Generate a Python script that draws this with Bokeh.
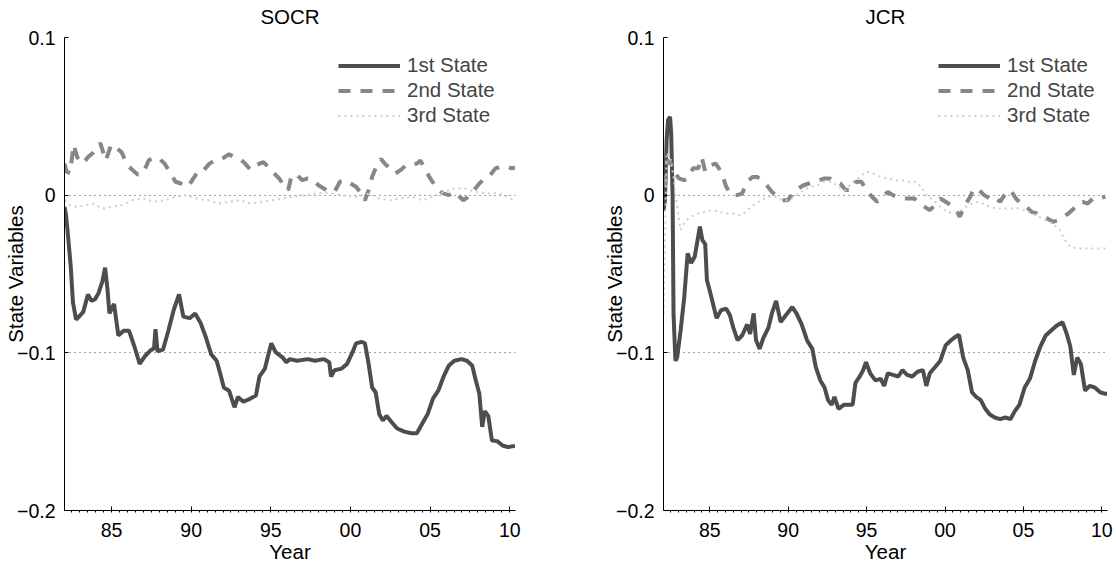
from bokeh.plotting import figure
from bokeh.layouts import row
from bokeh.models import (FixedTicker, CustomJSTickFormatter, Range1d, Legend,
                          LegendItem, LinearAxis, Grid)
from bokeh.embed import file_html
from bokeh.resources import INLINE

FONT = "Liberation Sans"

# ---------------- data (year, value) ----------------
panel_titles = ["SOCR", "JCR"]
series_names = ["1st State", "2nd State", "3rd State"]
x_tick_years = [1985, 1990, 1995, 2000, 2005, 2010]
x_tick_labels = ["85", "90", "95", "00", "05", "10"]
y_tick_values = [-0.2, -0.1, 0.0, 0.1]
y_tick_labels = ["\u22120.2", "\u22120.1", "0", "0.1"]
y_grid_values = [-0.1, 0.0, 0.1]

socr_1st = [(1982.05, -0.0074), (1982.13, -0.0116), (1982.24, -0.0222), (1982.44, -0.045),
            (1982.58, -0.068), (1982.78, -0.079), (1982.96, -0.077), (1983.23, -0.074),
            (1983.52, -0.063), (1983.74, -0.067), (1983.97, -0.066), (1984.19, -0.062),
            (1984.42, -0.055), (1984.60, -0.046), (1984.75, -0.060), (1984.87, -0.075),
            (1985.16, -0.069), (1985.43, -0.089), (1985.76, -0.086), (1986.10, -0.086),
            (1986.44, -0.096), (1986.77, -0.107), (1987.11, -0.102), (1987.45, -0.0985),
            (1987.67, -0.097), (1987.76, -0.085), (1987.89, -0.099), (1988.23, -0.098),
            (1988.57, -0.086), (1988.90, -0.073), (1989.24, -0.063), (1989.51, -0.077),
            (1989.91, -0.078), (1990.25, -0.075), (1990.59, -0.081), (1990.92, -0.090),
            (1991.26, -0.101), (1991.60, -0.105), (1991.82, -0.113), (1992.05, -0.122),
            (1992.38, -0.124), (1992.72, -0.1345), (1992.94, -0.128), (1993.28, -0.131),
            (1993.72, -0.129), (1994.07, -0.127), (1994.29, -0.115), (1994.63, -0.110),
            (1994.85, -0.101), (1995.03, -0.094), (1995.30, -0.0996), (1995.75, -0.103),
            (1995.97, -0.106), (1996.20, -0.104), (1996.65, -0.105), (1997.32, -0.104),
            (1997.77, -0.105), (1998.33, -0.104), (1998.67, -0.106), (1998.78, -0.115),
            (1999.00, -0.111), (1999.45, -0.110), (1999.79, -0.107), (2000.13, -0.0996),
            (2000.35, -0.094), (2000.69, -0.093), (2000.91, -0.094), (2001.14, -0.107),
            (2001.36, -0.122), (2001.58, -0.125), (2001.81, -0.139), (2002.03, -0.143),
            (2002.26, -0.140), (2002.59, -0.144), (2002.93, -0.148), (2003.38, -0.150),
            (2003.83, -0.151), (2004.17, -0.151), (2004.50, -0.145), (2004.84, -0.139),
            (2005.18, -0.129), (2005.51, -0.124), (2005.85, -0.115), (2006.18, -0.108),
            (2006.52, -0.105), (2006.97, -0.104), (2007.31, -0.105), (2007.64, -0.108),
            (2007.87, -0.1175), (2008.09, -0.126), (2008.27, -0.147), (2008.43, -0.137),
            (2008.65, -0.140), (2008.88, -0.1556), (2009.21, -0.156), (2009.55, -0.1588),
            (2009.89, -0.1598), (2010.33, -0.159)]

socr_2nd = [(1982.06, 0.020), (1982.17, 0.015), (1982.40, 0.014), (1982.62, 0.032),
            (1982.85, 0.024), (1983.18, 0.020), (1983.52, 0.024), (1983.86, 0.027),
            (1984.30, 0.033), (1984.64, 0.022), (1984.98, 0.032), (1985.31, 0.030),
            (1985.65, 0.027), (1985.99, 0.019), (1986.32, 0.016), (1986.66, 0.013),
            (1987.00, 0.014), (1987.33, 0.022), (1987.67, 0.024), (1988.01, 0.023),
            (1988.34, 0.020), (1988.57, 0.016), (1989.02, 0.0085), (1989.35, 0.0074),
            (1989.80, 0.0053), (1990.14, 0.0106), (1990.48, 0.016), (1990.81, 0.016),
            (1991.15, 0.020), (1991.49, 0.022), (1991.93, 0.023), (1992.38, 0.026),
            (1992.72, 0.024), (1993.06, 0.023), (1993.39, 0.020), (1993.73, 0.016),
            (1994.07, 0.019), (1994.52, 0.021), (1994.85, 0.018), (1995.19, 0.014),
            (1995.53, 0.0106), (1995.86, 0.0053), (1996.09, 0.0032), (1996.31, 0.0127),
            (1996.65, 0.0127), (1996.98, 0.0095), (1997.32, 0.0106), (1997.66, 0.0095),
            (1997.99, 0.0063), (1998.33, 0.0042), (1998.67, 0.0021), (1999.00, 0.0021),
            (1999.34, 0.0085), (1999.68, 0.0095), (2000.01, 0.0074), (2000.35, 0.0053),
            (2000.69, 0.001), (2000.91, -0.0032), (2001.14, 0.0032), (2001.36, 0.0116),
            (2001.70, 0.020), (2001.92, 0.023), (2002.15, 0.020), (2002.48, 0.017),
            (2002.82, 0.0137), (2003.16, 0.016), (2003.49, 0.019), (2003.83, 0.020),
            (2004.17, 0.020), (2004.39, 0.022), (2004.61, 0.018), (2004.95, 0.0116),
            (2005.29, 0.0063), (2005.51, 0.0032), (2005.85, 0.001), (2006.18, 0.0),
            (2006.52, 0.0021), (2006.86, -0.001), (2007.08, -0.0032), (2007.42, -0.001),
            (2007.76, 0.0032), (2008.09, 0.0074), (2008.43, 0.0106), (2008.77, 0.0127),
            (2009.10, 0.017), (2009.44, 0.018), (2009.89, 0.018), (2010.11, 0.017),
            (2010.33, 0.0175)]

socr_3rd = [(1982.06, -0.0032), (1982.40, -0.0063), (1982.85, -0.0074), (1983.41, -0.0063),
            (1983.86, -0.0053), (1984.42, -0.0085), (1984.98, -0.0074), (1985.65, -0.0063),
            (1986.32, -0.0032), (1987.00, -0.0021), (1987.67, -0.0042), (1988.34, -0.0032),
            (1989.02, -0.001), (1989.69, 0.0), (1990.36, -0.0021), (1991.04, -0.0032),
            (1991.71, -0.0053), (1992.38, -0.0042), (1993.06, -0.0032), (1993.73, -0.0053),
            (1994.40, -0.0042), (1995.08, -0.0032), (1995.75, -0.0021), (1996.42, -0.001),
            (1997.10, 0.0), (1997.77, 0.001), (1998.44, 0.0015), (1999.12, 0.0006),
            (1999.79, -0.0006), (2000.46, -0.001), (2001.14, 0.001), (2001.81, -0.0021),
            (2002.48, -0.0032), (2003.16, -0.0021), (2003.83, -0.001), (2004.50, -0.0032),
            (2005.18, -0.001), (2005.85, 0.0021), (2006.52, 0.0042), (2007.19, 0.0042),
            (2007.87, 0.0021), (2008.54, 0.001), (2009.21, 0.0015), (2009.89, -0.001),
            (2010.22, -0.0032)]

jcr_1st = [(1982.05, -0.010), (1982.14, -0.003), (1982.25, 0.035), (1982.34, 0.0476),
           (1982.47, 0.0497), (1982.54, 0.039), (1982.63, -0.001), (1982.69, -0.0753),
           (1982.81, -0.105), (1982.92, -0.103), (1983.14, -0.086), (1983.37, -0.065),
           (1983.59, -0.037), (1983.81, -0.043), (1984.04, -0.039), (1984.37, -0.020),
           (1984.53, -0.0285), (1984.71, -0.031), (1984.82, -0.054), (1984.93, -0.058),
           (1985.16, -0.067), (1985.43, -0.078), (1985.72, -0.073), (1986.05, -0.072),
           (1986.28, -0.076), (1986.50, -0.084), (1986.77, -0.092), (1987.06, -0.089),
           (1987.39, -0.082), (1987.57, -0.088), (1987.80, -0.075), (1987.95, -0.092),
           (1988.18, -0.0975), (1988.40, -0.091), (1988.74, -0.084), (1988.96, -0.075),
           (1989.23, -0.067), (1989.52, -0.0805), (1989.86, -0.076), (1990.26, -0.071),
           (1990.53, -0.075), (1990.86, -0.082), (1991.20, -0.092), (1991.54, -0.0975),
           (1991.76, -0.109), (1992.05, -0.1175), (1992.32, -0.122), (1992.54, -0.130),
           (1992.77, -0.133), (1992.95, -0.128), (1993.21, -0.1355), (1993.55, -0.133),
           (1993.89, -0.133), (1994.11, -0.133), (1994.29, -0.119), (1994.56, -0.115),
           (1994.78, -0.111), (1994.96, -0.106), (1995.23, -0.113), (1995.56, -0.1175),
           (1995.90, -0.1165), (1996.12, -0.121), (1996.35, -0.113), (1996.68, -0.114),
           (1997.02, -0.115), (1997.29, -0.111), (1997.58, -0.114), (1997.91, -0.115),
           (1998.25, -0.112), (1998.59, -0.111), (1998.81, -0.121), (1999.03, -0.113),
           (1999.37, -0.109), (1999.70, -0.105), (2000.04, -0.0953), (2000.38, -0.092),
           (2000.64, -0.090), (2000.89, -0.0886), (2001.16, -0.103), (2001.45, -0.111),
           (2001.72, -0.125), (2001.99, -0.128), (2002.28, -0.130), (2002.57, -0.1355),
           (2002.84, -0.139), (2003.17, -0.141), (2003.51, -0.142), (2003.85, -0.141),
           (2004.18, -0.142), (2004.45, -0.137), (2004.74, -0.133), (2005.08, -0.122),
           (2005.41, -0.1165), (2005.75, -0.105), (2006.08, -0.096), (2006.42, -0.089),
           (2006.75, -0.086), (2007.09, -0.083), (2007.49, -0.0805), (2007.76, -0.088),
           (2007.99, -0.096), (2008.21, -0.114), (2008.43, -0.103), (2008.66, -0.107),
           (2008.93, -0.124), (2009.22, -0.121), (2009.55, -0.122), (2009.89, -0.125),
           (2010.22, -0.126), (2010.33, -0.126)]

jcr_2nd = [(1982.14, 0.0053), (1982.29, 0.022), (1982.47, 0.021), (1982.69, 0.016),
           (1983.03, 0.0106), (1983.37, 0.0095), (1983.59, 0.0106), (1983.93, 0.017),
           (1984.26, 0.017), (1984.49, 0.024), (1984.71, 0.015), (1985.04, 0.019),
           (1985.38, 0.020), (1985.72, 0.015), (1986.05, 0.0053), (1986.39, 0.0),
           (1986.72, 0.0), (1987.06, 0.001), (1987.39, 0.0085), (1987.73, 0.0116),
           (1988.02, 0.0116), (1988.29, 0.0095), (1988.63, 0.0063), (1988.96, 0.0021),
           (1989.30, -0.001), (1989.63, -0.0032), (1989.97, -0.0032), (1990.30, 0.001),
           (1990.64, 0.0042), (1990.98, 0.0063), (1991.31, 0.0074), (1991.65, 0.0085),
           (1991.98, 0.0095), (1992.32, 0.0106), (1992.65, 0.0106), (1992.99, 0.0085),
           (1993.33, 0.0074), (1993.66, 0.0032), (1994.00, 0.0032), (1994.33, 0.0085),
           (1994.67, 0.0085), (1995.00, 0.0032), (1995.34, -0.001), (1995.68, -0.0042),
           (1996.01, -0.001), (1996.35, 0.0021), (1996.68, 0.0), (1997.02, -0.001),
           (1997.35, -0.0021), (1997.69, -0.0021), (1998.03, -0.0021), (1998.36, -0.0053),
           (1998.70, -0.0074), (1999.03, -0.0095), (1999.37, -0.0063), (1999.70, -0.0021),
           (2000.04, -0.0042), (2000.38, -0.0063), (2000.71, -0.0095), (2000.94, -0.0137),
           (2001.27, -0.0063), (2001.61, -0.001), (2001.83, 0.0042), (2002.17, 0.0032),
           (2002.50, 0.0), (2002.84, -0.0021), (2003.17, -0.001), (2003.51, -0.0042),
           (2003.85, 0.001), (2004.18, 0.0032), (2004.52, -0.0021), (2004.85, -0.0053),
           (2005.19, -0.0074), (2005.52, -0.0106), (2005.86, -0.0116), (2006.20, -0.0137),
           (2006.53, -0.0148), (2006.87, -0.0169), (2007.20, -0.0159), (2007.54, -0.0137),
           (2007.87, -0.0116), (2008.21, -0.0085), (2008.54, -0.0053), (2008.77, -0.0042),
           (2009.10, -0.0053), (2009.44, -0.0021), (2009.78, -0.0021), (2010.22, -0.001)]

jcr_3rd = [(1982.05, -0.075), (1982.25, 0.027), (1982.47, 0.024), (1982.69, 0.0116),
           (1982.92, -0.0074), (1983.14, -0.022), (1983.48, -0.016), (1983.81, -0.0137),
           (1984.26, -0.0116), (1984.71, -0.0106), (1985.16, -0.0095), (1985.60, -0.0106),
           (1986.05, -0.0116), (1986.50, -0.0116), (1986.95, -0.0127), (1987.28, -0.0106),
           (1987.62, -0.0074), (1987.95, -0.0053), (1988.29, -0.0032), (1988.74, -0.001),
           (1989.19, -0.001), (1989.63, -0.0032), (1990.08, -0.0032), (1990.53, 0.0),
           (1990.98, 0.0032), (1991.42, 0.0053), (1991.87, 0.0063), (1992.32, 0.0085),
           (1992.77, 0.0085), (1993.21, 0.0053), (1993.66, 0.0032), (1994.11, 0.0085),
           (1994.56, 0.0116), (1995.00, 0.0148), (1995.45, 0.0137), (1995.90, 0.0116),
           (1996.35, 0.0106), (1996.79, 0.0095), (1997.24, 0.0095), (1997.69, 0.0085),
           (1998.14, 0.0085), (1998.47, 0.0053), (1998.81, 0.0), (1999.26, -0.0032),
           (1999.70, -0.0074), (2000.15, -0.0106), (2000.60, -0.0116), (2001.05, -0.0095),
           (2001.49, -0.0063), (2001.94, -0.0042), (2002.39, -0.0053), (2002.84, -0.0074),
           (2003.29, -0.0085), (2003.73, -0.0085), (2004.18, -0.0085), (2004.63, -0.0085),
           (2005.08, -0.0095), (2005.52, -0.0116), (2005.97, -0.0137), (2006.42, -0.0159),
           (2006.87, -0.018), (2007.31, -0.022), (2007.65, -0.0285), (2007.99, -0.0328),
           (2008.43, -0.0338), (2008.88, -0.0338), (2009.33, -0.0338), (2009.78, -0.0338),
           (2010.22, -0.0338)]

panels_data = [[socr_1st, socr_2nd, socr_3rd], [jcr_1st, jcr_2nd, jcr_3rd]]

# ---------------- styles ----------------
X_START, X_END = 1982.05, 2010.36
Y_START, Y_END = -0.2, 0.1
styles = [dict(line_color="#4d4d4d", line_width=4),
          dict(line_color="#878787", line_width=4, line_dash="12 10"),
          dict(line_color="#cdcdcd", line_width=2, line_dash="2 4")]

fmt_code = """
for (let i = 0; i < t.length; i++) { if (Math.abs(t[i] - tick) < 1e-6) return l[i]; }
return '';
"""


def style_text(ax):
    ax.major_label_text_font = FONT
    ax.major_label_text_font_size = "19.5px"
    ax.major_label_text_color = "black"
    ax.axis_label_text_font = FONT
    ax.axis_label_text_font_size = "20.5px"
    ax.axis_label_text_font_style = "normal"
    ax.axis_label_text_color = "black"


def make_panel(title, data, fig_width, border_left, border_right, legend_vx):
    p = figure(width=fig_width, height=566, output_backend="svg", toolbar_location=None,
               x_range=Range1d(X_START, X_END), y_range=Range1d(Y_START, Y_END),
               min_border_left=border_left, min_border_right=border_right,
               min_border_top=37, min_border_bottom=56,
               x_axis_type=None, y_axis_type=None)
    p.outline_line_color = None
    p.background_fill_color = "white"
    p.border_fill_color = "white"

    # title drawn as the label of an empty top axis
    taxis = LinearAxis(ticker=FixedTicker(ticks=[]), axis_line_color=None,
                       major_tick_line_color=None, minor_tick_line_color=None,
                       major_tick_in=0, major_tick_out=0, minor_tick_in=0, minor_tick_out=0,
                       major_label_standoff=0, axis_label=title, axis_label_standoff=10)
    style_text(taxis)
    p.add_layout(taxis, "above")

    minor = [y + m / 2 for y in range(1982, 2011) for m in (0, 1) if X_START <= y + m / 2 <= X_END]
    xaxis = LinearAxis(ticker=FixedTicker(ticks=x_tick_years, minor_ticks=minor),
                       formatter=CustomJSTickFormatter(args=dict(t=x_tick_years, l=x_tick_labels),
                                                       code=fmt_code))
    yaxis = LinearAxis(ticker=FixedTicker(ticks=y_tick_values),
                       formatter=CustomJSTickFormatter(args=dict(t=y_tick_values, l=y_tick_labels),
                                                       code=fmt_code))
    for ax in (xaxis, yaxis):
        ax.axis_line_color = "black"
        ax.axis_line_width = 1
        ax.major_tick_line_color = "black"
        ax.major_tick_in = 4
        ax.major_tick_out = 0
        ax.minor_tick_line_color = "black"
        ax.minor_tick_in = 0
        ax.minor_tick_out = 2
        style_text(ax)
    yaxis.minor_tick_line_color = None
    xaxis.major_label_standoff = 10
    yaxis.major_label_standoff = 9
    xaxis.axis_label = "Year"
    xaxis.axis_label_standoff = 0
    yaxis.axis_label = "State Variables"
    yaxis.axis_label_standoff = -13
    p.add_layout(xaxis, "below")
    p.add_layout(yaxis, "left")

    grid = Grid(dimension=1, ticker=FixedTicker(ticks=y_grid_values),
                grid_line_color="#444444", grid_line_width=1, grid_line_dash="1 4")
    p.add_layout(grid)

    renderers = []
    for series, st in zip(data, styles):
        xs = [a for a, b in series]
        ys = [b for a, b in series]
        renderers.append(p.line(xs, ys, **st))

    legend = Legend(items=[LegendItem(label=n, renderers=[r]) for n, r in zip(series_names, renderers)],
                    location=(legend_vx, 383), padding=0, spacing=1, glyph_width=62,
                    glyph_height=23, label_height=23, label_standoff=7,
                    label_text_font=FONT, label_text_font_size="20.5px",
                    border_line_color=None, background_fill_alpha=0)
    p.add_layout(legend)
    return p


p1 = make_panel(panel_titles[0], panels_data[0], 600, 64, 85, 274)
p2 = make_panel(panel_titles[1], panels_data[1], 516, 57, 9, 275)
layout = row(p1, p2)

open("out.html", "w").write(file_html(layout, INLINE))
